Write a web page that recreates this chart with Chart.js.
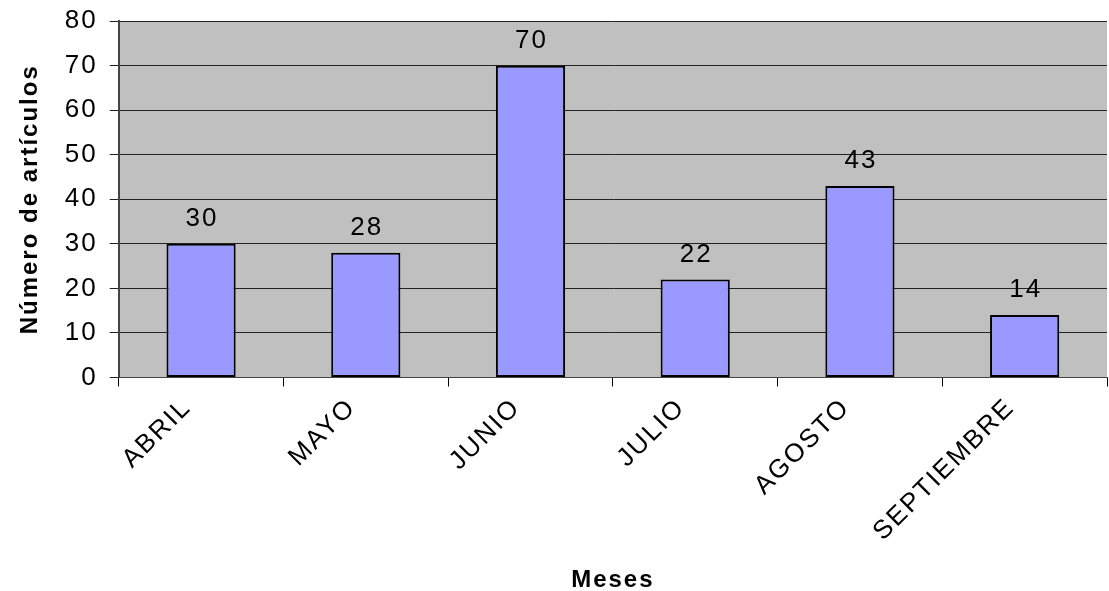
<!DOCTYPE html>
<html>
<head>
<meta charset="utf-8">
<script src="https://cdn.jsdelivr.net/npm/chart.js@4/dist/chart.umd.min.js"></script>
<style>
  html, body { margin: 0; padding: 0; background: #fff; }
  #wrap { width: 1109px; height: 591px; }
</style>
</head>
<body>
<div id="wrap"><canvas id="chart"></canvas></div>
<script>
// Datos del gráfico
const meses = ['ABRIL', 'MAYO', 'JUNIO', 'JULIO', 'AGOSTO', 'SEPTIEMBRE'];
const articulos = [30, 28, 70, 22, 43, 14];
const yTicks = [0, 10, 20, 30, 40, 50, 60, 70, 80];

const FONT = 'Arial, "Liberation Sans", sans-serif';
const SPACING = '2px';   // el original tiene el texto algo ensanchado

// Espaciado de letras en el contexto (se pierde al redimensionar el canvas)
const wideText = {
    id: 'wideText',
    beforeLayout(chart) { chart.ctx.letterSpacing = SPACING; },
    beforeDraw(chart) { chart.ctx.letterSpacing = SPACING; }
};

// Fondo gris del área de trazado
const plotBg = {
    id: 'plotBg',
    beforeDraw(chart) {
        const { ctx, chartArea: a } = chart;
        ctx.save();
        ctx.fillStyle = '#C0C0C0';
        ctx.fillRect(a.left, a.top, a.right - a.left, a.bottom - a.top);
        ctx.restore();
    }
};

// Etiquetas de valor encima de cada barra
const valueLabels = {
    id: 'valueLabels',
    afterDatasetsDraw(chart) {
        const { ctx } = chart;
        const meta = chart.getDatasetMeta(0);
        ctx.save();
        ctx.font = '26px ' + FONT;
        ctx.fillStyle = '#000';
        ctx.textAlign = 'center';
        ctx.textBaseline = 'bottom';
        meta.data.forEach((bar, i) => {
            ctx.fillText(String(articulos[i]), bar.x + 1, bar.y - 12);
        });
        ctx.restore();
    }
};

new Chart(document.getElementById('chart'), {
    type: 'bar',
    data: {
        labels: meses,
        datasets: [{
            data: articulos,
            backgroundColor: '#9999FF',
            borderColor: '#000',
            borderWidth: 2,
            borderSkipped: false,
            categoryPercentage: 1,
            barPercentage: 0.42
        }]
    },
    options: {
        responsive: true,
        maintainAspectRatio: false,
        animation: false,
        layout: { padding: { left: 16, right: 2, top: 0, bottom: -4 } },
        plugins: {
            legend: { display: false },
            tooltip: { enabled: false }
        },
        scales: {
            x: {
                grid: { offset: true, drawOnChartArea: false, color: '#000', tickLength: 9 },
                border: { color: '#444', width: 1 },
                ticks: {
                    color: '#000',
                    font: { family: FONT, size: 26 },
                    minRotation: 45, maxRotation: 45,
                    labelOffset: -14,
                    padding: 6
                },
                title: {
                    display: true, text: 'Meses', color: '#000',
                    font: { family: FONT, size: 24, weight: 'bold' },
                    padding: { top: 13, bottom: 0 }
                }
            },
            y: {
                min: 0, max: 80,
                afterBuildTicks: (axis) => { axis.ticks = yTicks.map(v => ({ value: v })); },
                grid: { color: '#222', lineWidth: 1, tickLength: 9 },
                border: { color: '#444', width: 2 },
                ticks: {
                    color: '#000',
                    font: { family: FONT, size: 26, lineHeight: 0.7 },
                    padding: 12
                },
                title: {
                    display: true, text: 'Número de artículos', color: '#000',
                    font: { family: FONT, size: 24, weight: 'bold' },
                    padding: { top: 0, bottom: 8 }
                }
            }
        }
    },
    plugins: [wideText, plotBg, valueLabels]
});
</script>
</body>
</html>
